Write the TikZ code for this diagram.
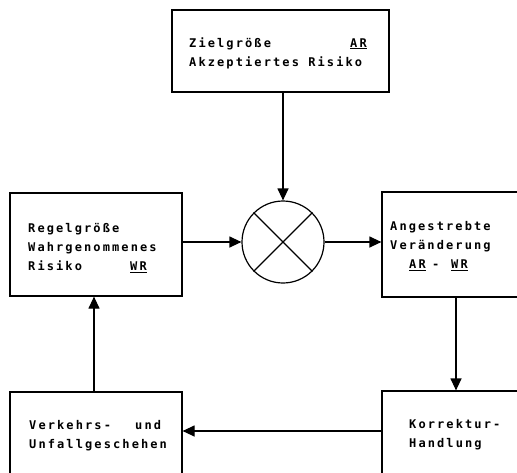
\documentclass[tikz,border=0pt]{standalone}
\usepackage{fontspec}
\newfontfamily\dotfont[LetterSpace=17.5]{DejaVu Sans Mono}
\newcommand\dgap{\hspace*{9.3pt}}
\usetikzlibrary{arrows.meta}
\tikzset{
  blk/.style={draw, line width=1.2pt, rectangle, inner sep=0pt},
  lbl/.style={anchor=base west, inner sep=0pt, align=left,
    font=\dotfont\bfseries\fontsize{12}{19}\selectfont},
  arr/.style={line width=1.2pt, -{Triangle[length=12pt,width=11pt]}},
  ln/.style={line width=1.2pt}
}
\begin{document}
\begin{tikzpicture}[x=1pt,y=-1pt]
\useasboundingbox (0,0) rectangle (517,472);
\clip (0,0) rectangle (517,472);
% boxes
\node[blk, minimum width=217pt, minimum height=82pt] (top) at (280.5,51) {};
\node[blk, minimum width=172pt, minimum height=103pt] (lft) at (96,244.5) {};
\node[blk, minimum width=148pt, minimum height=105pt] (rgt) at (456,244.5) {};
\node[blk, minimum width=172pt, minimum height=104pt] (bl) at (96,444) {};
\node[blk, minimum width=148pt, minimum height=104pt] (br) at (456,443) {};
\node[draw, circle, line width=1.2pt, minimum size=82pt, inner sep=0pt] (c) at (283,242) {};
\draw[ln] (c.north east) -- (c.south west);
\draw[ln] (c.north west) -- (c.south east);
% texts (anchor = baseline of last line)
\node[lbl] (ttop) at (189,66) {\makebox[161pt][l]{Zielgröße}\underline{AR}\\Akzeptiertes\dgap Risiko};
\node[lbl] (tlft) at (28,270.5) {Regelgröße\\Wahrgenommenes\\\makebox[102pt][l]{Risiko}\underline{WR}};
\node[lbl] (trgt) at (390,268.5) {Angestrebte\\Veränderung\\\hspace*{19pt}\makebox[23pt][l]{\underline{AR}}\makebox[19pt][l]{-}\underline{WR}};
\node[lbl] (tbl) at (29,448) {\makebox[106pt][l]{Verkehrs-}und\\Unfallgeschehen};
\node[lbl] (tbr) at (409,447) {Korrektur-\\Handlung};
% connectors
\coordinate (topout) at (c.north |- top.south);
\draw[arr] (topout) -- (c.north);
\draw[arr] (lft.east |- c.west) -- (c.west);
\draw[arr] (c.east) -- (rgt.west |- c.east);
\draw[arr] (rgt.south) -- (br.north);
\coordinate (bra) at ([yshift=12pt]br.west);
\draw[arr] (bra) -- (bl.east |- bra);
\coordinate (blup) at ([xshift=-2pt]bl.north);
\draw[arr] (blup) -- (blup |- lft.south);
\end{tikzpicture}
\end{document}
